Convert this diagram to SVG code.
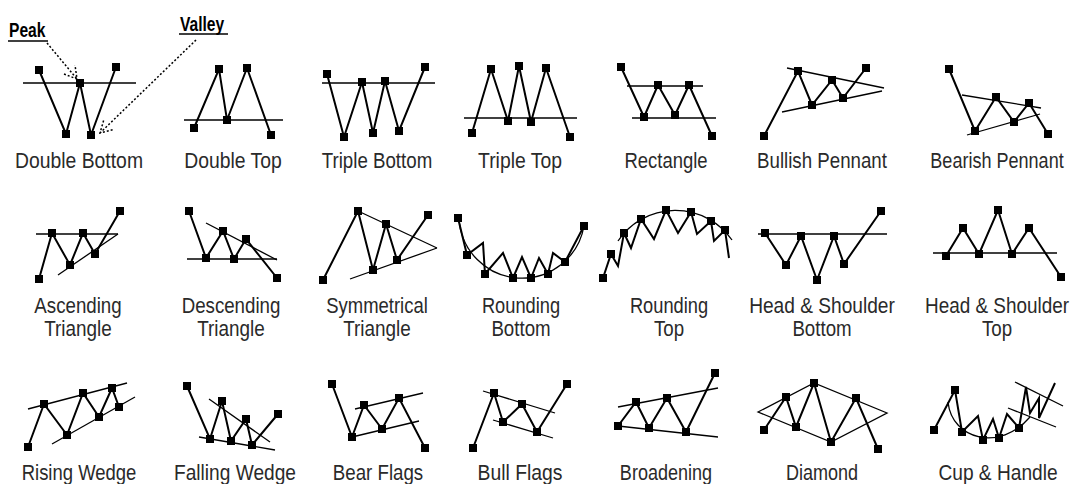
<svg xmlns="http://www.w3.org/2000/svg" width="1077" height="484" viewBox="0 0 1077 484">
<style>
.p{fill:none;stroke:#000;stroke-width:2;stroke-linejoin:miter}
.t{fill:none;stroke:#000;stroke-width:1.3}
.d{fill:none;stroke:#000;stroke-width:1.5;stroke-dasharray:2 2}
.u{stroke:#000;stroke-width:1.3}
.l{font-family:"Liberation Sans",Arial,sans-serif;font-size:22px;fill:#2a2a2a;text-anchor:middle}
.a{font-family:"Liberation Sans",Arial,sans-serif;font-size:20px;font-weight:bold;fill:#000}
</style>
<defs><rect id="m" x="-4" y="-4" width="8" height="8" fill="#000"/></defs>
<rect width="1077" height="484" fill="#fff"/>

<g id="annotations">
<text class="a" transform="translate(9,37) scale(0.78,1)">Peak</text>
<line class="u" x1="8" y1="41" x2="48" y2="41"/>
<text class="a" transform="translate(180,31) scale(0.78,1)">Valley</text>
<line class="u" x1="179" y1="34" x2="228" y2="34"/>
</g>
<g id="connectors">
<path class="d" d="M47,43 L77,79 M64,74 L77,79 L75,65"/>
<path class="d" d="M196,40 L100,133 M112.6,129.8 L100,133 L103.6,120.5"/>
</g>

<g id="double-bottom">
<line class="t" x1="23" y1="83" x2="136" y2="83"/>
<polyline class="p" points="39,70 66,134 80,83 91,135 116,67"/>
<use href="#m" x="39" y="70"/><use href="#m" x="66" y="134"/><use href="#m" x="80" y="83"/><use href="#m" x="91" y="135"/><use href="#m" x="116" y="67"/>
<text class="l" transform="translate(79,168) scale(0.88,1)">Double Bottom</text>
</g>

<g id="double-top">
<line class="t" x1="184" y1="120" x2="283" y2="120"/>
<polyline class="p" points="194,128 219,69 227,120 247,68 271,135"/>
<use href="#m" x="194" y="128"/><use href="#m" x="219" y="69"/><use href="#m" x="227" y="120"/><use href="#m" x="247" y="68"/><use href="#m" x="271" y="135"/>
<text class="l" transform="translate(233,168) scale(0.88,1)">Double Top</text>
</g>

<g id="triple-bottom">
<line class="t" x1="322" y1="83" x2="435" y2="83"/>
<polyline class="p" points="327,74 344,137 362,82 373,133 385,81 399,131 425,67"/>
<use href="#m" x="327" y="74"/><use href="#m" x="344" y="137"/><use href="#m" x="362" y="82"/><use href="#m" x="373" y="133"/><use href="#m" x="385" y="81"/><use href="#m" x="399" y="131"/><use href="#m" x="425" y="67"/>
<text class="l" transform="translate(377,168) scale(0.85,1)">Triple Bottom</text>
</g>

<g id="triple-top">
<line class="t" x1="464" y1="118" x2="577" y2="118"/>
<polyline class="p" points="472,133 491,69 508,121 519,66 531,122 546,68 570,137"/>
<use href="#m" x="472" y="133"/><use href="#m" x="491" y="69"/><use href="#m" x="508" y="121"/><use href="#m" x="519" y="66"/><use href="#m" x="531" y="122"/><use href="#m" x="546" y="68"/><use href="#m" x="570" y="137"/>
<text class="l" transform="translate(520,168) scale(0.88,1)">Triple Top</text>
</g>

<g id="rectangle">
<line class="t" x1="627" y1="86" x2="703" y2="86"/>
<line class="t" x1="632" y1="118" x2="716" y2="118"/>
<polyline class="p" points="621,67 644,117 658,85 675,115 689,85 712,136"/>
<use href="#m" x="621" y="67"/><use href="#m" x="644" y="117"/><use href="#m" x="658" y="85"/><use href="#m" x="675" y="115"/><use href="#m" x="689" y="85"/><use href="#m" x="712" y="136"/>
<text class="l" transform="translate(666,168) scale(0.84,1)">Rectangle</text>
</g>

<g id="bullish-pennant">
<line class="t" x1="787" y1="68" x2="884" y2="88"/>
<line class="t" x1="782" y1="112" x2="882" y2="91"/>
<polyline class="p" points="764,136 798,71 812,105 832,80 843,98 866,68"/>
<use href="#m" x="764" y="136"/><use href="#m" x="798" y="71"/><use href="#m" x="812" y="105"/><use href="#m" x="832" y="80"/><use href="#m" x="843" y="98"/><use href="#m" x="866" y="68"/>
<text class="l" transform="translate(822,168) scale(0.85,1)">Bullish Pennant</text>
</g>

<g id="bearish-pennant">
<line class="t" x1="962" y1="95" x2="1041" y2="108"/>
<line class="t" x1="967" y1="135" x2="1040" y2="114"/>
<polyline class="p" points="949,69 975,131 996,97 1014,122 1029,103 1048,134"/>
<use href="#m" x="949" y="69"/><use href="#m" x="975" y="131"/><use href="#m" x="996" y="97"/><use href="#m" x="1014" y="122"/><use href="#m" x="1029" y="103"/><use href="#m" x="1048" y="134"/>
<text class="l" transform="translate(997,168) scale(0.82,1)">Bearish Pennant</text>
</g>

<g id="ascending-triangle">
<line class="t" x1="36" y1="234" x2="118" y2="234"/>
<line class="t" x1="58" y1="275" x2="118" y2="234"/>
<polyline class="p" points="39,279 52,233 70,265 83,233 95,254 120,211"/>
<use href="#m" x="39" y="279"/><use href="#m" x="52" y="233"/><use href="#m" x="70" y="265"/><use href="#m" x="83" y="233"/><use href="#m" x="95" y="254"/><use href="#m" x="120" y="211"/>
<text class="l" transform="translate(78,313) scale(0.85,1)">Ascending</text>
<text class="l" transform="translate(78,336) scale(0.86,1)">Triangle</text>
</g>

<g id="descending-triangle">
<line class="t" x1="187" y1="259" x2="277" y2="259"/>
<line class="t" x1="206" y1="223" x2="277" y2="260"/>
<polyline class="p" points="189,211 206,258 223,231 234,259 246,239 277,278"/>
<use href="#m" x="189" y="211"/><use href="#m" x="206" y="258"/><use href="#m" x="223" y="231"/><use href="#m" x="234" y="259"/><use href="#m" x="246" y="239"/><use href="#m" x="277" y="278"/>
<text class="l" transform="translate(231,313) scale(0.85,1)">Descending</text>
<text class="l" transform="translate(231,336) scale(0.86,1)">Triangle</text>
</g>

<g id="symmetrical-triangle">
<line class="t" x1="358" y1="211" x2="437" y2="248"/>
<line class="t" x1="350" y1="279" x2="437" y2="248"/>
<polyline class="p" points="323,280 358,211 373,270 386,224 397,260 428,215"/>
<use href="#m" x="323" y="280"/><use href="#m" x="358" y="211"/><use href="#m" x="373" y="270"/><use href="#m" x="386" y="224"/><use href="#m" x="397" y="260"/><use href="#m" x="428" y="215"/>
<text class="l" transform="translate(377,313) scale(0.84,1)">Symmetrical</text>
<text class="l" transform="translate(377,336) scale(0.86,1)">Triangle</text>
</g>

<g id="rounding-bottom">
<path class="t" d="M459,218 A63,63 0 0 0 584,226"/>
<polyline class="p" points="458,218 467,255 483,243 485,274 503,253 513,278 522,257 531,278 539,258 548,274 553,253 565,262 584,226"/>
<use href="#m" x="458" y="218"/><use href="#m" x="467" y="255"/><use href="#m" x="485" y="274"/><use href="#m" x="513" y="278"/><use href="#m" x="531" y="278"/><use href="#m" x="548" y="274"/><use href="#m" x="565" y="262"/><use href="#m" x="584" y="226"/>
<text class="l" transform="translate(521,313) scale(0.83,1)">Rounding</text>
<text class="l" transform="translate(521,336) scale(0.85,1)">Bottom</text>
</g>

<g id="rounding-top">
<path class="t" d="M618,241 A69,69 0 0 1 732,240"/>
<polyline class="p" points="603,278 611,254 618,266 624,233 631,248 641,219 654,239 666,210 678,233 691,212 697,234 711,221 714,241 725,230 729,258"/>
<use href="#m" x="603" y="278"/><use href="#m" x="611" y="254"/><use href="#m" x="624" y="233"/><use href="#m" x="641" y="219"/><use href="#m" x="666" y="210"/><use href="#m" x="691" y="212"/><use href="#m" x="711" y="221"/><use href="#m" x="725" y="230"/>
<text class="l" transform="translate(669,313) scale(0.83,1)">Rounding</text>
<text class="l" transform="translate(669,336) scale(0.85,1)">Top</text>
</g>

<g id="head-shoulder-bottom">
<line class="t" x1="758" y1="234" x2="887" y2="234"/>
<polyline class="p" points="765,233 786,265 801,236 817,280 834,236 844,264 881,211"/>
<use href="#m" x="765" y="233"/><use href="#m" x="786" y="265"/><use href="#m" x="801" y="236"/><use href="#m" x="817" y="280"/><use href="#m" x="834" y="236"/><use href="#m" x="844" y="264"/><use href="#m" x="881" y="211"/>
<text class="l" transform="translate(822,313) scale(0.87,1)">Head &amp; Shoulder</text>
<text class="l" transform="translate(822,336) scale(0.85,1)">Bottom</text>
</g>

<g id="head-shoulder-top">
<line class="t" x1="933" y1="253" x2="1057" y2="253"/>
<polyline class="p" points="946,256 963,228 979,254 998,210 1012,254 1029,228 1061,277"/>
<use href="#m" x="946" y="256"/><use href="#m" x="963" y="228"/><use href="#m" x="979" y="254"/><use href="#m" x="998" y="210"/><use href="#m" x="1012" y="254"/><use href="#m" x="1029" y="228"/><use href="#m" x="1061" y="277"/>
<text class="l" transform="translate(997,313) scale(0.86,1)">Head &amp; Shoulder</text>
<text class="l" transform="translate(997,336) scale(0.85,1)">Top</text>
</g>

<g id="rising-wedge">
<line class="t" x1="28" y1="409" x2="127" y2="383"/>
<line class="t" x1="52" y1="444" x2="135" y2="397"/>
<polyline class="p" points="28,447 44,404 67,435 83,393 99,417 112,388 119,407"/>
<use href="#m" x="28" y="447"/><use href="#m" x="44" y="404"/><use href="#m" x="67" y="435"/><use href="#m" x="83" y="393"/><use href="#m" x="99" y="417"/><use href="#m" x="112" y="388"/><use href="#m" x="119" y="407"/>
<text class="l" transform="translate(79,480) scale(0.84,1)">Rising Wedge</text>
</g>

<g id="falling-wedge">
<line class="t" x1="209" y1="399" x2="270" y2="442"/>
<line class="t" x1="199" y1="437" x2="275" y2="450"/>
<polyline class="p" points="187,386 210,439 222,401 231,441 246,419 252,445 278,414"/>
<use href="#m" x="187" y="386"/><use href="#m" x="210" y="439"/><use href="#m" x="222" y="401"/><use href="#m" x="231" y="441"/><use href="#m" x="246" y="419"/><use href="#m" x="252" y="445"/><use href="#m" x="278" y="414"/>
<text class="l" transform="translate(235,480) scale(0.87,1)">Falling Wedge</text>
</g>

<g id="bear-flags">
<line class="t" x1="355" y1="409" x2="423" y2="393"/>
<line class="t" x1="352" y1="437" x2="419" y2="421"/>
<polyline class="p" points="332,384 352,437 364,405 382,429 399,398 425,448"/>
<use href="#m" x="332" y="384"/><use href="#m" x="352" y="437"/><use href="#m" x="364" y="405"/><use href="#m" x="382" y="429"/><use href="#m" x="399" y="398"/><use href="#m" x="425" y="448"/>
<text class="l" transform="translate(378,480) scale(0.85,1)">Bear Flags</text>
</g>

<g id="bull-flags">
<line class="t" x1="483" y1="391" x2="555" y2="413"/>
<line class="t" x1="493" y1="420" x2="553" y2="438"/>
<polyline class="p" points="473,448 494,393 503,422 522,404 537,432 567,384"/>
<use href="#m" x="473" y="448"/><use href="#m" x="494" y="393"/><use href="#m" x="503" y="422"/><use href="#m" x="522" y="404"/><use href="#m" x="537" y="432"/><use href="#m" x="567" y="384"/>
<text class="l" transform="translate(520,480) scale(0.88,1)">Bull Flags</text>
</g>

<g id="broadening">
<line class="t" x1="618" y1="407" x2="718" y2="388"/>
<line class="t" x1="618" y1="426" x2="718" y2="437"/>
<polyline class="p" points="618,426 636,402 649,428 667,398 686,432 715,373"/>
<use href="#m" x="618" y="426"/><use href="#m" x="636" y="402"/><use href="#m" x="649" y="428"/><use href="#m" x="667" y="398"/><use href="#m" x="686" y="432"/><use href="#m" x="715" y="373"/>
<text class="l" transform="translate(666,480) scale(0.82,1)">Broadening</text>
</g>

<g id="diamond">
<polygon class="t" points="758,412 814,383 887,413 831,442"/>
<polyline class="p" points="764,430 786,397 796,427 814,383 831,442 856,398 878,449"/>
<use href="#m" x="764" y="430"/><use href="#m" x="786" y="397"/><use href="#m" x="796" y="427"/><use href="#m" x="814" y="383"/><use href="#m" x="831" y="442"/><use href="#m" x="856" y="398"/><use href="#m" x="878" y="449"/>
<text class="l" transform="translate(822,480) scale(0.82,1)">Diamond</text>
</g>

<g id="cup-handle">
<path class="t" d="M948,402 C952,440 1000,452 1030,417"/>
<line class="t" x1="1015" y1="382" x2="1063" y2="406"/>
<line class="t" x1="1008" y1="408" x2="1056" y2="427"/>
<polyline class="p" points="934,430 955,390 962,432 978,416 983,440 993,419 999,438 1007,414 1019,428 1026,387 1030,413 1039,398 1039,418 1055,383"/>
<use href="#m" x="934" y="430"/><use href="#m" x="955" y="390"/><use href="#m" x="962" y="432"/><use href="#m" x="983" y="440"/><use href="#m" x="999" y="438"/><use href="#m" x="1019" y="428"/>
<text class="l" transform="translate(998,480) scale(0.87,1)">Cup &amp; Handle</text>
</g>
</svg>
